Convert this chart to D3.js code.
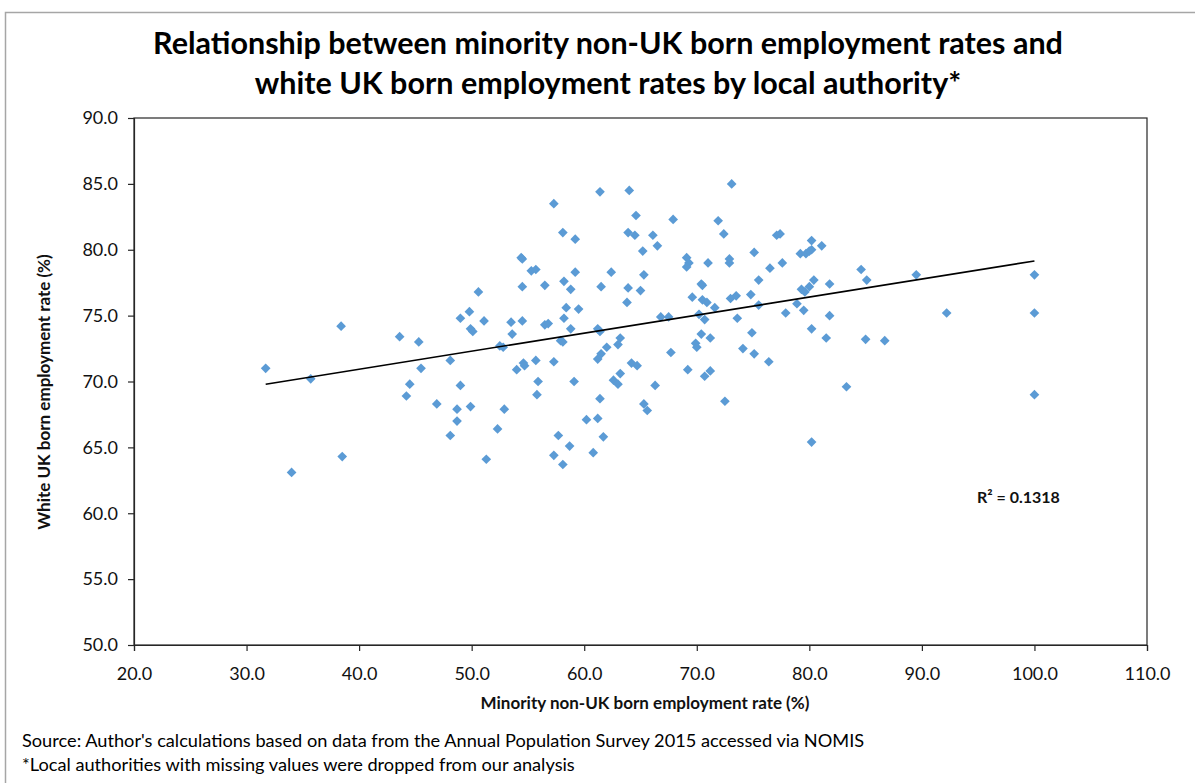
<!DOCTYPE html>
<html>
<head>
<meta charset="utf-8">
<script src="https://cdn.jsdelivr.net/npm/d3@7"></script>
<style>
  html, body { margin: 0; padding: 0; background: #fff; }
  svg { display: block; }
  text { font-family: Lato, "Open Sans", sans-serif; }
</style>
</head>
<body>
<svg id="chart" width="1195" height="783"></svg>
<script>
// Employment rates by local authority, 2015 (%)
const minorityNonUK = [
  31.7, 35.7, 38.4, 43.6, 44.5, 44.2, 38.5, 34.0, 45.3, 45.5,
  48.1, 49.0, 46.9, 48.7, 48.7, 49.9, 48.1, 49.0, 49.8, 49.9,
  50.1, 50.6, 51.1, 52.5, 52.8, 52.9, 52.3, 51.3, 53.5, 53.6,
  54.5, 54.4, 54.5, 54.5, 55.3, 55.7, 54.0, 54.6, 54.7, 55.7,
  55.9, 55.8, 57.3, 61.4, 64.0, 64.6, 67.9, 58.1, 59.2, 63.9,
  64.5, 66.1, 66.5, 65.2, 62.4, 59.2, 65.3, 58.2, 58.8, 61.5,
  63.9, 65.0, 63.8, 56.5, 58.4, 59.5, 58.2, 58.8, 56.5, 56.8,
  57.9, 58.1, 61.2, 61.4, 63.2, 63.0, 62.0, 61.5, 61.2, 64.2,
  64.7, 57.3, 59.1, 61.4, 62.6, 63.2, 63.0, 66.3, 67.7, 67.5,
  66.8, 65.3, 65.6, 60.2, 61.2, 61.7, 57.7, 58.7, 57.3, 58.1,
  60.8, 73.1, 71.9, 72.4, 77.1, 77.4, 80.2, 81.1, 79.2, 79.7,
  80.0, 80.2, 75.1, 69.1, 69.3, 69.1, 71.0, 72.9, 72.9, 77.6,
  76.5, 84.6, 85.1, 89.5, 75.5, 70.4, 70.5, 80.4, 81.8, 79.3,
  79.6, 80.0, 74.8, 73.5, 73.0, 69.6, 70.5, 70.9, 71.6, 75.5,
  78.9, 79.5, 77.9, 81.8, 70.2, 70.7, 73.6, 80.2, 74.9, 70.4,
  71.2, 81.5, 85.0, 86.7, 69.9, 70.0, 74.1, 75.1, 76.4, 69.2,
  70.7, 71.2, 83.3, 72.5, 80.2, 92.2, 100.0, 100.0, 100.0
];
const whiteUKBorn = [
  71.0, 70.2, 74.2, 73.4, 69.8, 68.9, 64.3, 63.1, 73.0, 71.0,
  71.6, 69.7, 68.3, 67.9, 67.0, 68.1, 65.9, 74.8, 75.3, 74.0,
  73.8, 76.8, 74.6, 72.7, 72.6, 67.9, 66.4, 64.1, 74.5, 73.6,
  74.6, 79.4, 79.3, 77.2, 78.4, 78.5, 70.9, 71.4, 71.2, 71.6,
  70.0, 69.0, 83.5, 84.4, 84.5, 82.6, 82.3, 81.3, 80.8, 81.3,
  81.1, 81.1, 80.3, 79.9, 78.3, 78.3, 78.1, 77.6, 77.0, 77.2,
  77.1, 76.9, 76.0, 77.3, 75.6, 75.5, 74.8, 74.0, 74.3, 74.4,
  73.1, 73.0, 74.0, 73.8, 73.3, 72.8, 72.6, 72.1, 71.7, 71.4,
  71.2, 71.5, 70.0, 68.7, 70.1, 70.6, 69.8, 69.7, 72.2, 74.9,
  74.9, 68.3, 67.8, 67.1, 67.2, 65.8, 65.9, 65.1, 64.4, 63.7,
  64.6, 85.0, 82.2, 81.2, 81.1, 81.2, 80.7, 80.3, 79.7, 79.7,
  79.9, 80.0, 79.8, 79.4, 79.0, 78.7, 79.0, 79.3, 79.0, 79.0,
  78.6, 78.5, 77.7, 78.1, 77.7, 77.4, 77.3, 77.7, 77.4, 77.0,
  76.8, 77.2, 76.6, 76.5, 76.3, 76.4, 76.2, 76.0, 75.6, 75.8,
  75.9, 75.4, 75.2, 75.0, 75.1, 74.7, 74.8, 74.0, 73.7, 73.6,
  73.3, 73.3, 73.2, 73.1, 72.9, 72.6, 72.5, 72.1, 71.5, 70.9,
  70.4, 70.8, 69.6, 68.5, 65.4, 75.2, 78.1, 75.2, 69.0
];

// Linear trend line (least squares) and its fit statistic
const trendSlope = 0.137;
const trendIntercept = 65.45;
const rSquared = "0.1318";

const xTicks = [20, 30, 40, 50, 60, 70, 80, 90, 100, 110];
const yTicks = [50, 55, 60, 65, 70, 75, 80, 85, 90];

const titleLines = [
  "Relationship between minority non-UK born employment rates and",
  "white UK born employment rates by local authority*"
];
const xTitle = "Minority non-UK born employment rate (%)";
const yTitle = "White UK born employment rate (%)";
const notes = [
  "Source: Author's calculations based on data from the Annual Population Survey 2015 accessed via NOMIS",
  "*Local authorities with missing values were dropped from our analysis"
];

const points = minorityNonUK.map((x, i) => ({ x, y: whiteUKBorn[i] }));

const svg = d3.select("#chart");
const plot = { left: 134, top: 118, right: 1147, bottom: 645 };

const x = d3.scaleLinear().domain([20, 110]).range([plot.left, plot.right]);
const y = d3.scaleLinear().domain([50, 90]).range([plot.bottom, plot.top]);

// Outer chart border
svg.append("rect")
  .attr("x", 5.5).attr("y", 12.5)
  .attr("width", 1200).attr("height", 800)
  .attr("fill", "#fff")
  .attr("stroke", "#a6a6a6").attr("stroke-width", 1.5);

// Title
svg.append("g").selectAll("text")
  .data(titleLines)
  .join("text")
  .attr("x", 608)
  .attr("y", (d, i) => 54 + i * 40)
  .attr("text-anchor", "middle")
  .attr("font-size", 30.5)
  .attr("font-weight", 700)
  .attr("fill", "#000")
  .text(d => d);

// Plot frame
svg.append("rect")
  .attr("x", plot.left).attr("y", plot.top)
  .attr("width", plot.right - plot.left).attr("height", plot.bottom - plot.top)
  .attr("fill", "none")
  .attr("stroke", "#262626").attr("stroke-width", 1.2);

// Axes
const xAxis = svg.append("g")
  .attr("transform", `translate(0,${plot.bottom})`)
  .call(d3.axisBottom(x).tickValues(xTicks).tickFormat(d3.format(".1f")).tickSize(6).tickPadding(16));
const yAxis = svg.append("g")
  .attr("transform", `translate(${plot.left},0)`)
  .call(d3.axisLeft(y).tickValues(yTicks).tickFormat(d3.format(".1f")).tickSize(6).tickPadding(10));

[xAxis, yAxis].forEach(g => {
  g.select(".domain").attr("stroke", "#262626").attr("stroke-width", 1.2);
  g.selectAll(".tick line").attr("stroke", "#262626").attr("stroke-width", 1.2);
  g.selectAll(".tick text")
    .attr("font-family", "Lato, sans-serif")
    .attr("font-size", 18)
    .attr("fill", "#111");
});

// Data points as diamonds
const diamond = d3.symbol().type(d3.symbolDiamond2).size(60);
svg.append("g").selectAll("path")
  .data(points)
  .join("path")
  .attr("transform", d => `translate(${x(d.x)},${y(d.y)})`)
  .attr("d", diamond)
  .attr("fill", "#5b9bd5");

// Trend line across the range of the data
const xExtent = d3.extent(minorityNonUK);
svg.append("line")
  .attr("x1", x(xExtent[0])).attr("y1", y(trendIntercept + trendSlope * xExtent[0]))
  .attr("x2", x(xExtent[1])).attr("y2", y(trendIntercept + trendSlope * xExtent[1]))
  .attr("stroke", "#000").attr("stroke-width", 1.6);

// R-squared label
svg.append("text")
  .attr("x", 977).attr("y", 503)
  .attr("font-size", 16).attr("font-weight", 700)
  .attr("fill", "#111")
  .text(`R² = ${rSquared}`);

// Axis titles
svg.append("text")
  .attr("x", 645).attr("y", 709)
  .attr("text-anchor", "middle")
  .attr("font-size", 17).attr("font-weight", 700)
  .attr("fill", "#111")
  .text(xTitle);

svg.append("text")
  .attr("transform", "translate(50,392) rotate(-90)")
  .attr("text-anchor", "middle")
  .attr("font-size", 17).attr("font-weight", 700)
  .attr("fill", "#111")
  .text(yTitle);

// Notes
svg.append("g").selectAll("text")
  .data(notes)
  .join("text")
  .attr("x", 22)
  .attr("y", (d, i) => 747 + i * 24)
  .attr("font-size", 18.2)
  .attr("fill", "#000")
  .text(d => d);
</script>
</body>
</html>
